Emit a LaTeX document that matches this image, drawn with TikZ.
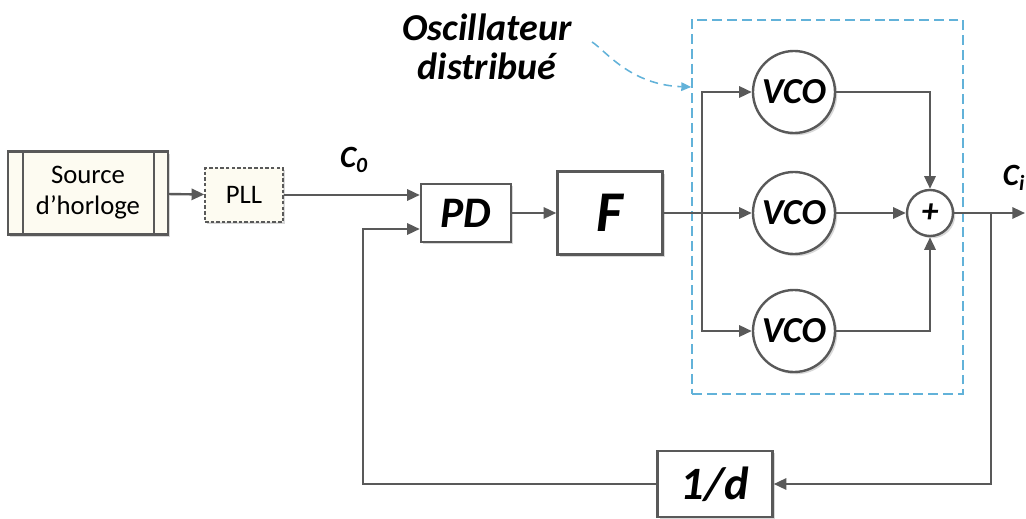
\documentclass[tikz,border=0pt]{standalone}
\usepackage{fontspec}
\setmainfont{Carlito}
\usetikzlibrary{positioning}
\usetikzlibrary{arrows.meta}
\usetikzlibrary{shadows}
\usetikzlibrary{fit}
\definecolor{wire}{HTML}{595959}
\definecolor{cream}{HTML}{FDFBF1}
\definecolor{oscblue}{HTML}{62B2D9}
\tikzset{
block/.style={ % boxes of the loop
draw=wire, line width=1.7pt, fill=white,
drop shadow={shadow xshift=1.6pt, shadow yshift=-1.6pt, fill=black!30, opacity=0.5},
font=\fontsize{31}{34}\selectfont\bfseries\itshape},
srcbox/.style={ % clock source, with its double sides
block, fill=cream, font=\fontsize{19}{22}\selectfont, align=center,
minimum width=4cm, minimum height=2.075cm,
path picture={
\draw[wire, line width=1.7pt] ([xshift=0.37cm]path picture bounding box.north west) -- ([xshift=0.37cm]path picture bounding box.south west);
\draw[wire, line width=1.7pt] ([xshift=-0.35cm]path picture bounding box.north east) -- ([xshift=-0.35cm]path picture bounding box.south east);}},
pllbox/.style={
block, fill=cream, dashed, line width=1.1pt, dash pattern=on 2.5pt off 1.5pt,
font=\fontsize{19}{22}\selectfont, minimum width=1.95cm, minimum height=1.35cm},
vco/.style={
block, circle, minimum size=2.05cm, inner sep=0pt,
font=\fontsize{26}{28}\selectfont\bfseries\itshape},
sum/.style={
block, circle, minimum size=1.15cm, inner sep=0pt,
font=\fontsize{24}{26}\selectfont\bfseries\itshape},
oscbox/.style={
draw=oscblue, line width=1.2pt, dash pattern=on 7pt off 3.5pt, inner sep=0pt},
lbl/.style={font=\fontsize{22}{24}\selectfont\bfseries\itshape},
link/.style={draw=wire, line width=1.7pt, ->},
note/.style={draw=oscblue, line width=1.1pt, dash pattern=on 6pt off 4pt,
-{Triangle[length=7pt, width=6pt]}},
every edge/.style={link}}

\begin{document}
\begin{tikzpicture}[x=0.025cm, y=-0.025cm, >={Triangle[length=9pt, width=8pt]}]
\useasboundingbox (0,0) rectangle (1026,519);
% distributed oscillator frame
\node[oscbox, fit={(692,20) (963,394)}] (osc) {};
\node[lbl, align=center, font=\fontsize{27}{28}\selectfont\bfseries\itshape] (osclabel) at (487,47) {Oscillateur\\distribué};
% blocks
\node[srcbox] (src) at (88,193) {Source\\d’horloge};
\node[pllbox] (pll) at (244,195) {PLL};
\node[block, minimum width=2.25cm, minimum height=1.45cm] (pd) at (466,213) {PD};
\node[block, minimum width=2.625cm, minimum height=2.075cm, font=\fontsize{41}{44}\selectfont\bfseries\itshape] (f) at (610,213) {F};
\node[vco] (vco1) at (794,92) {VCO};
\node[vco] (vco2) at (794,213) {VCO};
\node[vco] (vco3) at (794,331) {VCO};
\node[sum] (sum) at (930,213) {+};
\node[block, minimum width=2.875cm, minimum height=1.65cm, font=\fontsize{33}{36}\selectfont\bfseries\itshape] (div) at (715,484) {1/d};
% signal names
\node[lbl] (c0) at (354,160) {C\textsubscript{0}};
\node[lbl] (ci) at (1014,178) {C\textsubscript{i}};
% helper points
\coordinate (bus) at (702,213);
\coordinate (branch) at (991,213);
\coordinate (out) at (1025,213);
\coordinate (fbcorner) at (363,484);
\coordinate (notestart) at (592,42);
% connections
\draw (src) edge (pll);
\draw (pll) edge (pll -| pd.west);
\draw (pd) edge (f);
\draw (f) edge (vco2);
\draw[link] (bus) |- (vco1);
\draw[link] (bus) |- (vco3);
\draw[link] (vco1) -| (sum);
\draw (vco2) edge (sum);
\draw[link] (vco3) -| (sum);
\draw[link] (sum) -- (out);
\draw[link] (branch) |- (div);
\draw[link] (div) -- (fbcorner) |- (pd.west |- 0,229);
\draw[note] (notestart) .. controls (605,50) and (630,85) .. (osc.west |- 0,87);
\end{tikzpicture}
\end{document}
